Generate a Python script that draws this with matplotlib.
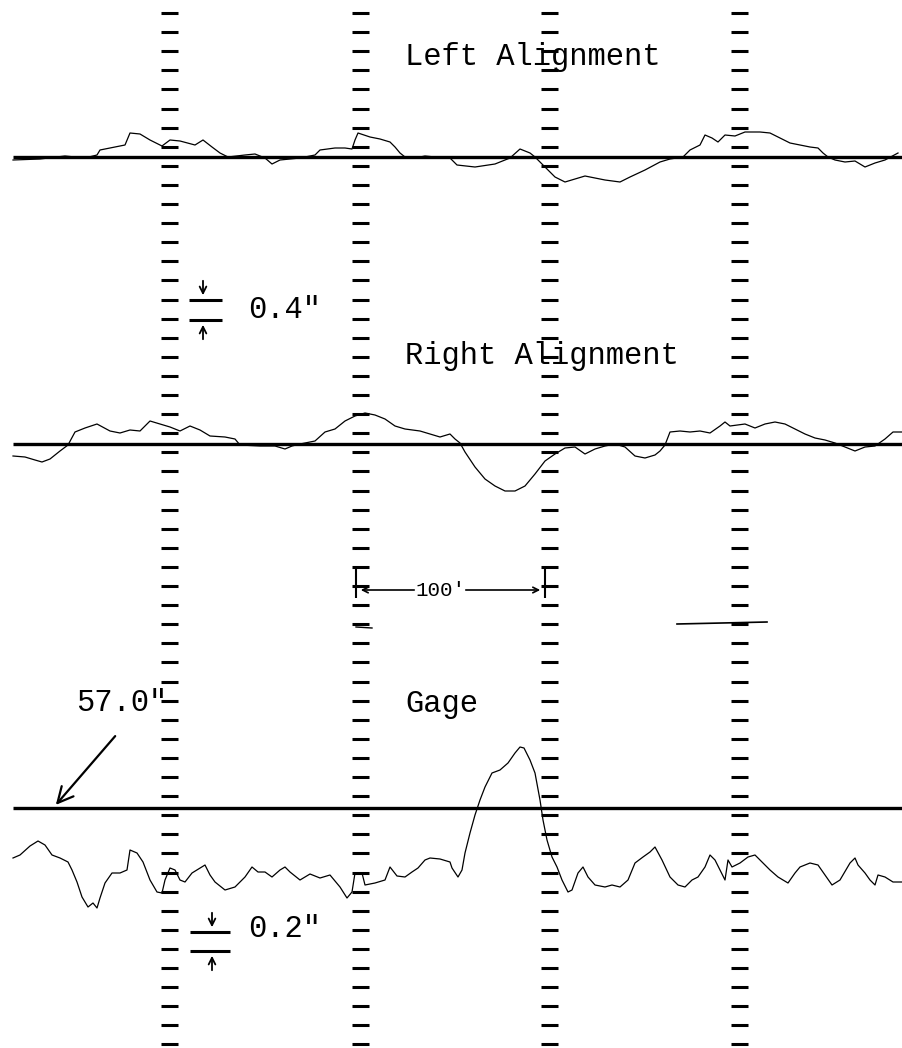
import numpy as np
import matplotlib
matplotlib.use('Agg')
import matplotlib.pyplot as plt

# strip chart: horizontal position along the chart (px) and trace offset above its baseline (px)
left_x = [13, 40, 65, 85, 97, 100, 115, 125, 130, 140, 150, 162, 170, 180, 195, 203, 212, 220, 228,
          245, 255, 265, 272, 280, 300, 315, 320, 335, 345, 352, 355, 358, 370, 380, 390, 395, 400,
          405, 415, 425, 435, 450, 457, 475, 495, 510, 520, 530, 535, 545, 555, 565, 575, 585, 595,
          605, 620, 630, 645, 660, 670, 683, 690, 700, 705, 712, 718, 725, 735, 745, 760, 770, 780,
          790, 800, 810, 818, 823, 828, 835, 845, 855, 865, 875, 885, 898]
left_off = [-3, -2, 1, -1, 2, 7, 10, 12, 24, 23, 17, 11, 17, 16, 12, 17, 10, 4, 0,
            2, 3, -1, -7, -3, -1, 2, 7, 9, 9, 8, 17, 24, 20, 18, 15, 10, 4,
            0, -1, 1, 0, -1, -8, -10, -7, -1, 8, 4, 0, -10, -20, -25, -22, -19, -21,
            -23, -25, -20, -13, -5, -2, 0, 7, 12, 22, 19, 15, 22, 21, 25, 25, 24, 19,
            14, 12, 10, 9, 4, 0, -3, -5, -4, -10, -6, -3, 4]

right_x = [13, 25, 35, 42, 50, 60, 68, 75, 85, 97, 110, 120, 130, 140, 150, 160, 170, 180, 190,
           200, 210, 225, 235, 240, 260, 275, 285, 292, 300, 315, 325, 335, 345, 355, 365, 375,
           385, 395, 405, 420, 430, 440, 450, 455, 460, 465, 475, 485, 495, 505, 515, 525, 535,
           545, 555, 565, 575, 585, 595, 605, 615, 625, 635, 645, 655, 660, 665, 670, 680, 690,
           700, 710, 720, 725, 730, 745, 755, 765, 775, 785, 795, 805, 815, 825, 835, 845, 855,
           865, 875, 885, 893, 903]
right_off = [-12, -13, -16, -18, -15, -7, -1, 12, 16, 20, 13, 11, 14, 13, 23, 20, 17, 13, 18,
             14, 8, 7, 5, -1, -2, -2, -5, -2, 0, 3, 12, 15, 23, 28, 31, 29,
             25, 18, 15, 13, 10, 7, 10, 5, 1, -8, -23, -35, -42, -47, -47, -42, -30,
             -17, -10, -4, -3, -10, -5, -2, 0, -3, -12, -14, -11, -7, -1, 12, 13, 12,
             13, 11, 18, 22, 18, 20, 16, 20, 22, 20, 15, 10, 6, 4, 1, -3, -7,
             -3, -2, 5, 12, 12]

gage_x = [13, 20, 30, 38, 45, 52, 60, 68, 72, 77, 82, 88, 93, 97, 100, 105, 112, 120, 127, 130,
          137, 143, 150, 157, 162, 165, 170, 175, 180, 185, 192, 200, 205, 210, 215, 225, 235, 245,
          252, 258, 265, 272, 280, 285, 290, 300, 310, 320, 330, 340, 347, 352, 355, 362, 365, 375,
          385, 390, 397, 405, 412, 418, 425, 430, 440, 450, 452, 458, 462, 465, 470, 475, 480, 485,
          492, 500, 508, 515, 520, 524, 530, 535, 540, 543, 547, 552, 557, 562, 568, 572, 578, 583,
          588, 595, 605, 612, 620, 628, 635, 643, 650, 655, 662, 670, 678, 685, 692, 698, 705, 710,
          715, 720, 725, 728, 732, 740, 748, 755, 762, 770, 778, 788, 795, 800, 810, 818, 825, 832,
          840, 850, 855, 858, 865, 870, 875, 878, 885, 893, 903]
gage_off = [-50, -47, -38, -33, -37, -47, -50, -54, -62, -74, -89, -99, -95, -100, -90, -75, -65, -65, -62, -42,
            -45, -54, -72, -84, -85, -72, -60, -62, -72, -74, -65, -60, -57, -67, -74, -82, -79, -69,
            -59, -64, -64, -69, -62, -59, -64, -72, -66, -70, -67, -79, -90, -84, -65, -65, -77, -75,
            -72, -59, -68, -69, -64, -60, -52, -50, -51, -54, -60, -69, -62, -45, -25, -7, 8, 21,
            35, 38, 45, 55, 61, 60, 48, 35, 8, -12, -32, -49, -59, -72, -84, -82, -65, -59,
            -69, -77, -79, -77, -79, -72, -55, -49, -44, -39, -52, -69, -77, -79, -72, -69, -59, -47,
            -52, -62, -72, -52, -59, -55, -49, -47, -54, -62, -69, -75, -65, -59, -55, -57, -67, -77,
            -72, -55, -50, -57, -65, -72, -77, -67, -69, -74, -74]

labels = ['Left Alignment', 'Right Alignment', 'Gage']
scale_labels = ['0.4"', '0.2"']
gage_ref = '57.0"'
station_label = "100'"

W, H = 903, 1048
mono = 'Liberation Mono'

fig = plt.figure(figsize=(W / 100, H / 100), dpi=100)
ax = fig.add_axes([0, 0, 1, 1])
ax.set_xlim(0, W)
ax.set_ylim(H, 0)
ax.axis('off')

# station ladders every 100'
ladder_x = [170, 361, 550, 740]
ticks_y = 13 + 19.1 * np.arange(55)
for lx in ladder_x:
    ax.hlines(ticks_y, lx - 8.5, lx + 8.5, color='black', lw=2.2)

# baselines and traces
bases = [157, 444, 808]
traces = [(left_x, left_off), (right_x, right_off), (gage_x, gage_off)]
for base, (tx, toff) in zip(bases, traces):
    ax.hlines(base, 13, W, color='black', lw=2.4)
    ax.plot(tx, base - np.array(toff), color='black', lw=0.9)

# titles
ax.text(405, 57, labels[0], fontsize=22, family=mono, va='center', ha='left')
ax.text(405, 356, labels[1], fontsize=22, family=mono, va='center', ha='left')
ax.text(405, 704, labels[2], fontsize=22, family=mono, va='center', ha='left')

# vertical scale markers
def scale_bar(y1, y2, xl, xr, xa, label, ty):
    ax.hlines([y1, y2], xl, xr, color='black', lw=2.2)
    ax.annotate('', xy=(xa, y1 - 2), xytext=(xa, y1 - 22),
                arrowprops=dict(arrowstyle='->', lw=1.3, mutation_scale=12))
    ax.annotate('', xy=(xa, y2 + 2), xytext=(xa, y2 + 22),
                arrowprops=dict(arrowstyle='->', lw=1.3, mutation_scale=12))
    ax.text(248, ty, label, fontsize=22, family=mono, va='center', ha='left')

scale_bar(300, 320, 189, 222, 203, scale_labels[0], 310)
scale_bar(932, 951, 190, 230, 212, scale_labels[1], 929)

# 100' distance marker
ax.vlines([356, 545], 567, 598, color='black', lw=1.5)
ax.annotate('', xy=(358, 590), xytext=(417, 590),
            arrowprops=dict(arrowstyle='->', lw=1.2, mutation_scale=10))
ax.annotate('', xy=(543, 590), xytext=(463, 590),
            arrowprops=dict(arrowstyle='->', lw=1.2, mutation_scale=10))
ax.text(440, 590, station_label, fontsize=15, family=mono, va='center', ha='center')
ax.plot([677, 767], [624, 622], color='black', lw=1.2)
ax.plot([356, 372], [627, 628], color='black', lw=1.0)

# gage reference
ax.text(76, 703, gage_ref, fontsize=22, family=mono, va='center', ha='left')
ax.annotate('', xy=(54, 807), xytext=(117, 734),
            arrowprops=dict(arrowstyle='->', lw=1.6, mutation_scale=28))

fig.savefig('out.png', dpi=100, facecolor='white')
